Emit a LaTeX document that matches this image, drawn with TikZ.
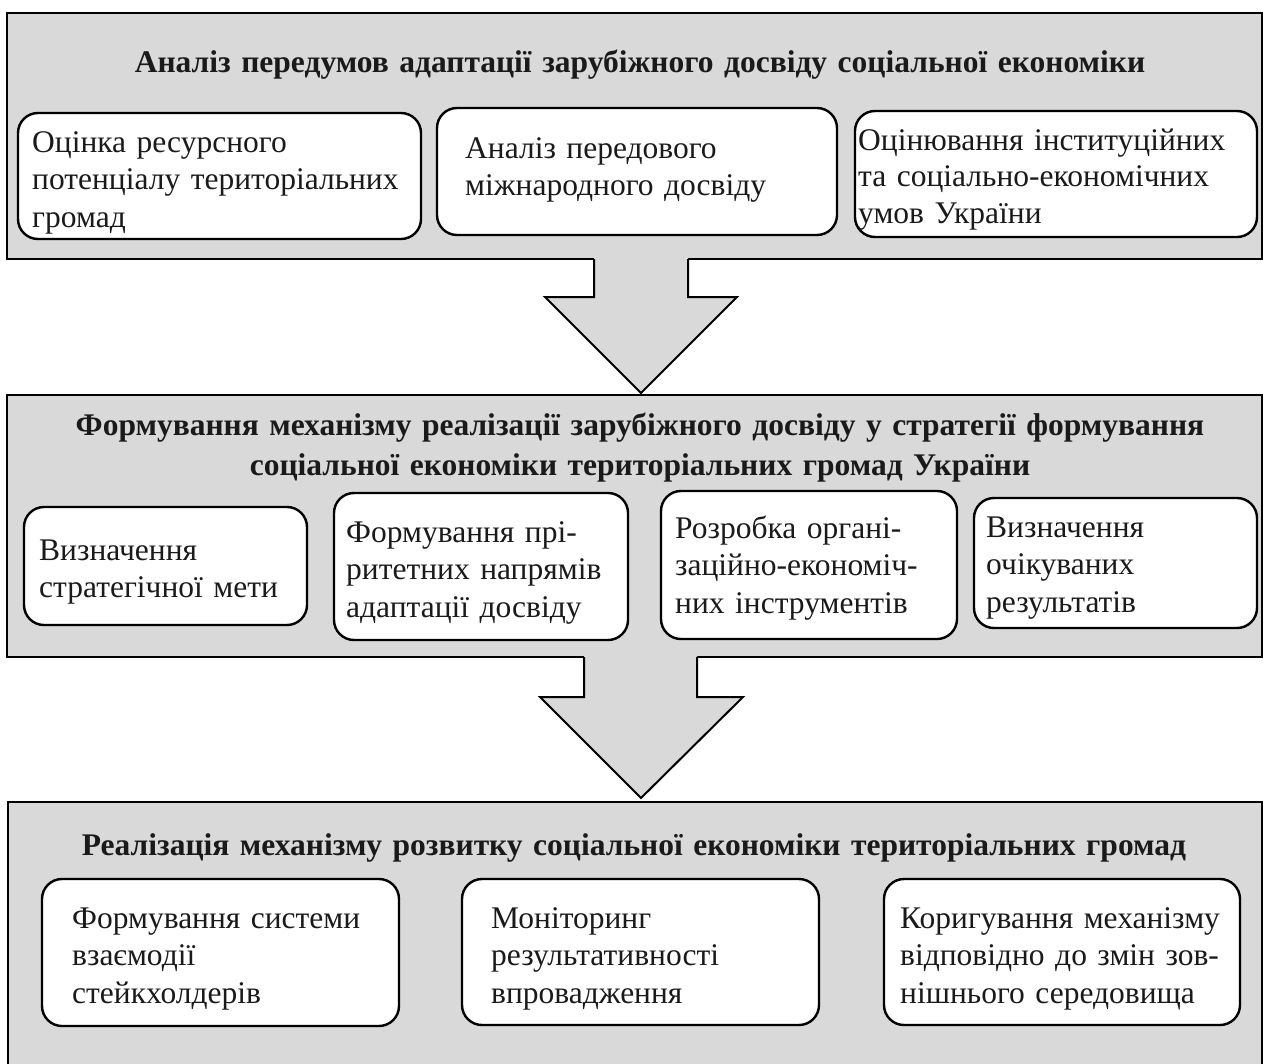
\documentclass[tikz,border=0pt]{standalone}
\usepackage{fontspec}
\setmainfont{Liberation Serif}
\definecolor{panelgray}{HTML}{D9D9D9}
\definecolor{ink}{HTML}{1A1A1A}
\begin{document}
\begin{tikzpicture}[x=1pt,y=-1pt,
  panel/.style={draw=black, line width=2.4pt, fill=panelgray, rectangle, inner sep=0pt},
  card/.style={draw=black, line width=2.4pt, fill=white, rectangle, rounded corners=20pt, inner sep=0pt},
  head/.style={font=\bfseries\fontsize{31.5}{40}\selectfont, text=ink, align=center, text width=1250pt, inner sep=0pt, anchor=base},
  body/.style={font=\fontsize{31.5}{37.5}\selectfont, text=ink, align=left, text width=420pt, inner sep=0pt, anchor=base west},
  flowfill/.style={fill=panelgray},
  flowline/.style={draw=black, line width=2pt, line join=miter},
]
\useasboundingbox (0,0) rectangle (1265,1063);

% three stage panels
\node[panel, minimum width=1255pt, minimum height=246pt] (p1) at (634.5,136) {};
\node[panel, minimum width=1255pt, minimum height=262pt] (p2) at (634.5,526) {};
\node[panel, minimum width=1254pt, minimum height=273pt] (p3) at (635,938.5) {};

% block arrow from stage 1 to stage 2
\coordinate (t1) at (641,393);
\fill[flowfill] (594,255) -- (594,297) -- (545,297) -- (t1) -- (737,297) -- (688,297) -- (688,255) -- cycle;
\draw[flowline] (594,259.2) -- (594,297) -- (545,297) -- (t1) -- (737,297) -- (688,297) -- (688,259.2);

% block arrow from stage 2 to stage 3
\coordinate (t2) at (641,798);
\fill[flowfill] (584,653) -- (584,697) -- (540,697) -- (t2) -- (743,697) -- (697,697) -- (697,653) -- cycle;
\draw[flowline] (584,657.2) -- (584,697) -- (540,697) -- (t2) -- (743,697) -- (697,697) -- (697,657.2);

% stage 1
\node[head] (h1) at (640,72) {Аналіз передумов адаптації зарубіжного досвіду соціальної економіки};
\node[card, minimum width=403pt, minimum height=126pt] (a1) at (219.5,176) {};
\node[card, minimum width=400pt, minimum height=127pt] (a2) at (637,171.5) {};
\node[card, minimum width=402pt, minimum height=126pt] (a3) at (1056,174) {};
\node[body] (a1t) at (32,152) {Оцінка ресурсного\\потенціалу територіальних\\громад};
\node[body] (a2t) at (465,158) {Аналіз передового\\міжнародного досвіду};
\node[body, font=\fontsize{31.5}{36.5}\selectfont] (a3t) at (858,150) {Оцінювання інституційних\\та соціально-економічних\\умов України};

% stage 2
\node[head] (h2) at (640,435) {Формування механізму реалізації зарубіжного досвіду у стратегії формування\\соціальної економіки територіальних громад України};
\node[card, minimum width=283pt, minimum height=118pt] (b1) at (165.5,566) {};
\node[card, minimum width=294pt, minimum height=147pt] (b2) at (481,566.5) {};
\node[card, minimum width=296pt, minimum height=148pt] (b3) at (809,565) {};
\node[card, minimum width=283pt, minimum height=130pt] (b4) at (1115.5,563) {};
\node[body] (b1t) at (39,560) {Визначення\\стратегічної мети};
\node[body] (b2t) at (346,542) {Формування прі-\\ритетних напрямів\\адаптації досвіду};
\node[body] (b3t) at (675,538) {Розробка органі-\\заційно-економіч-\\них інструментів};
\node[body] (b4t) at (986,537) {Визначення\\очікуваних\\результатів};

% stage 3
\node[head] (h3) at (634,855) {Реалізація механізму розвитку соціальної економіки територіальних громад};
\node[card, minimum width=357pt, minimum height=147pt] (c1) at (220.5,952.5) {};
\node[card, minimum width=357pt, minimum height=146pt] (c2) at (640.5,952) {};
\node[card, minimum width=356pt, minimum height=146pt] (c3) at (1062,952) {};
\node[body] (c1t) at (72,928) {Формування системи\\взаємодії\\стейкхолдерів};
\node[body] (c2t) at (491,928) {Моніторинг\\результативності\\впровадження};
\node[body] (c3t) at (900,928) {Коригування механізму\\відповідно до змін зов-\\нішнього середовища};
\end{tikzpicture}
\end{document}
